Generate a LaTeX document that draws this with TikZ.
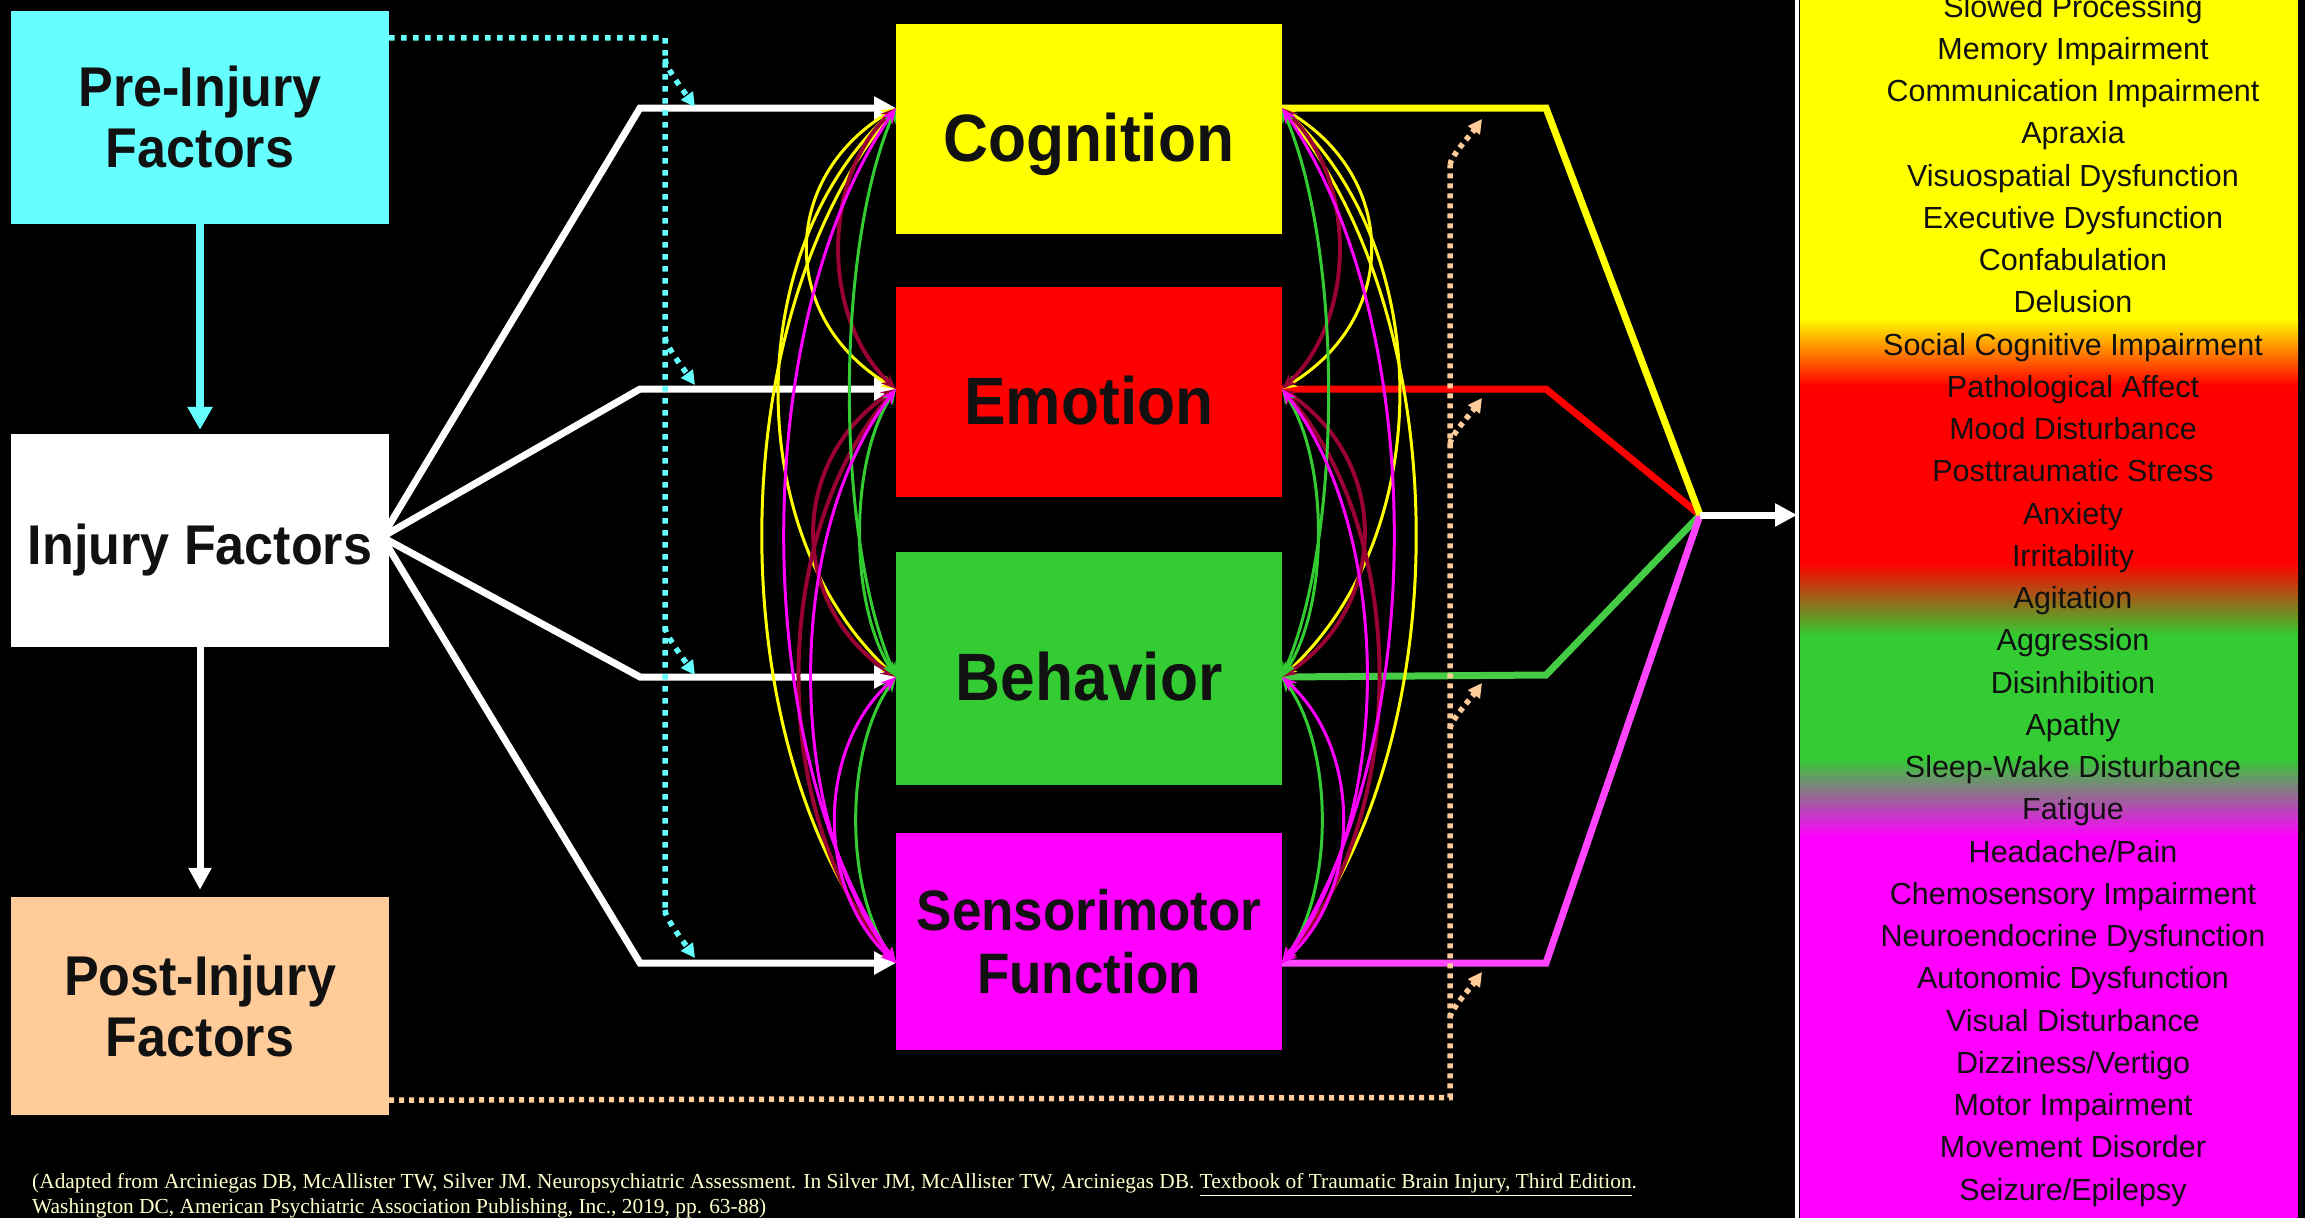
\documentclass[tikz,border=0pt]{standalone}
\usepackage{fontspec}
\setmainfont{Liberation Sans}
\newfontfamily\boxfont{Liberation Sans}[FakeStretch=0.93]
\newfontfamily\notefont{Liberation Serif}
\usetikzlibrary{arrows.meta}

\definecolor{preC}{HTML}{66FFFF}
\definecolor{postC}{HTML}{FFCC99}
\definecolor{cogC}{HTML}{FFFF00}
\definecolor{emoC}{HTML}{FF0000}
\definecolor{behC}{HTML}{33CC33}
\definecolor{senC}{HTML}{FF00FF}
\definecolor{behLine}{HTML}{44CC44}
\definecolor{senLine}{HTML}{FF44FF}
\definecolor{wineC}{HTML}{990033}
\definecolor{noteC}{HTML}{FFFFCC}
\definecolor{textC}{HTML}{111111}

\begin{document}
\begin{tikzpicture}[x=1pt, y=1pt,
    factorbox/.style={minimum width=378pt, minimum height=213pt, inner sep=0pt, align=center, text=textC, font=\boxfont\bfseries\fontsize{56}{61}\selectfont},
    domainbox/.style={minimum width=386pt, inner sep=0pt, align=center, text=textC, font=\boxfont\bfseries\fontsize{67}{72}\selectfont},
    oneline/.style={text height=64pt, text depth=0pt},
    wline/.style={white, line width=7pt},
    wtip/.style={-{Triangle[length=22pt, width=22pt]}},
    link/.style={line width=3pt, {Stealth[length=15pt, width=12pt]}-{Stealth[length=15pt, width=12pt]}},
    rline/.style={line width=7pt},
    cdot/.style={preC, line width=5.5pt, dash pattern=on 5.5pt off 6.5pt},
    pdot/.style={postC, line width=5.5pt, dash pattern=on 5pt off 5pt},
    dtip/.style={-{Triangle[length=14pt, width=14pt]}},
    symptom/.style={text=textC, font=\fontsize{30.5}{36}\selectfont, inner sep=0pt, anchor=base},
    note/.style={text=noteC, font=\notefont\fontsize{21.4}{24.5}\selectfont, align=left, inner sep=0pt}]
    \useasboundingbox (0,0) rectangle (2305,-1218);
    \fill[black] (0,0) rectangle (2305,-1218);

    % symptom panel
    \fill[cogC] (1800,0) rectangle (2298,-319);
    \shade[top color=cogC, bottom color=emoC] (1800,-318) rectangle (2298,-386);
    \fill[emoC] (1800,-385) rectangle (2298,-564);
    \shade[top color=emoC, bottom color=behC] (1800,-563) rectangle (2298,-636);
    \fill[behC] (1800,-635) rectangle (2298,-759);
    \shade[top color=behC, bottom color=senC] (1800,-758) rectangle (2298,-837);
    \fill[senC] (1800,-836) rectangle (2298,-1218);
    \draw[white, line width=4pt] (1797,0) -- (1797,-1218);
    \foreach \name [count=\i from 0] in {{Slowed Processing}, {Memory Impairment},
        {Communication Impairment}, {Apraxia}, {Visuospatial Dysfunction},
        {Executive Dysfunction}, {Confabulation}, {Delusion},
        {Social Cognitive Impairment}, {Pathological Affect}, {Mood Disturbance},
        {Posttraumatic Stress}, {Anxiety}, {Irritability}, {Agitation},
        {Aggression}, {Disinhibition}, {Apathy}, {Sleep-Wake Disturbance},
        {Fatigue}, {Headache/Pain}, {Chemosensory Impairment},
        {Neuroendocrine Dysfunction}, {Autonomic Dysfunction},
        {Visual Disturbance}, {Dizziness/Vertigo}, {Motor Impairment},
        {Movement Disorder}, {Seizure/Epilepsy}}
        \node[symptom] (sym\i) at (2073,-17-42.25*\i) {\name};

    % factors and domains
    \node[factorbox, fill=preC] (pre) at (200,-117) {Pre-Injury\\Factors};
    \node[factorbox, fill=white, text height=47pt, text depth=0pt] (inj) at (200,-540.5) {Injury Factors};
    \node[factorbox, fill=postC, minimum height=218pt] (post) at (200,-1006) {Post-Injury\\Factors};
    \node[domainbox, oneline, fill=cogC, minimum height=210pt] (cog) at (1089,-129) {Cognition};
    \node[domainbox, oneline, fill=emoC, minimum height=210pt] (emo) at (1089,-392) {Emotion};
    \node[domainbox, oneline, fill=behC, minimum height=233pt] (beh) at (1089,-668.5) {Behavior};
    \node[domainbox, fill=senC, minimum height=217pt, font=\boxfont\bfseries\fontsize{57}{63}\selectfont] (sen) at (1089,-941.5) {Sensorimotor\\Function};

    \coordinate (cogL) at (896,-108);  \coordinate (cogR) at (1282,-108);
    \coordinate (emoL) at (896,-389);  \coordinate (emoR) at (1282,-389);
    \coordinate (behL) at (896,-677);  \coordinate (behR) at (1282,-677);
    \coordinate (senL) at (896,-963);  \coordinate (senR) at (1282,-963);
    \coordinate (fan) at (382,-537);
    \coordinate (hub) at (1700,-515);
    \coordinate (panelIn) at (1797,-515);

    \draw[preC, line width=8pt, -{Triangle[length=23pt, width=24pt]}, shorten >=4pt] (pre) -- (inj);
    \draw[wline, wtip, shorten >=7pt] (inj) -- (post);

    % injury to domains
    \draw[wline, wtip] (fan) -- (640,-108) -- (cogL);
    \draw[wline, wtip] (fan) -- (640,-389) -- (emoL);
    \draw[wline, wtip] (fan) -- (640,-677) -- (behL);
    \draw[wline, wtip] (fan) -- (640,-963) -- (senL);

    % domains to symptoms
    \draw[rline, emoC] (emoR) -- (1546,-389) -- (hub);
    \draw[rline, behLine] (behR) -- (1546,-675) -- (hub);
    \draw[rline, senLine] (senR) -- (1546,-963) -- (hub);
    \draw[rline, cogC] (cogR) -- (1546,-108) -- (hub);
    \draw[wline, wtip] (hub) -- (panelIn);

    % links between domains, both sides
    \foreach \s/\d in {-1/L, 1/R} {
        \draw[link, cogC] (cog\d) .. controls +(\s*117,-70) and +(\s*117,70) .. (emo\d);
        \draw[link, cogC] (cog\d) .. controls +(\s*155,-142) and +(\s*155,142) .. (beh\d);
        \draw[link, cogC] (cog\d) .. controls +(\s*177,-214) and +(\s*177,214) .. (sen\d);
        \draw[link, wineC, line width=4pt] (emo\d) .. controls +(\s*75,70) and +(\s*75,-70) .. (cog\d);
        \draw[link, wineC, line width=4pt] (emo\d) .. controls +(\s*108,-72) and +(\s*108,72) .. (beh\d);
        \draw[link, wineC, line width=4pt] (emo\d) .. controls +(\s*128,-144) and +(\s*128,144) .. (sen\d);
        \draw[link, behC] (beh\d) .. controls +(\s*61,142) and +(\s*61,-142) .. (cog\d);
        \draw[link, behC] (beh\d) .. controls +(\s*47,72) and +(\s*47,-72) .. (emo\d);
        \draw[link, behC] (beh\d) .. controls +(\s*52,-72) and +(\s*52,72) .. (sen\d);
        \draw[link, senC] (sen\d) .. controls +(\s*148,214) and +(\s*148,-214) .. (cog\d);
        \draw[link, senC] (sen\d) .. controls +(\s*112,144) and +(\s*112,-144) .. (emo\d);
        \draw[link, senC] (sen\d) .. controls +(\s*80,72) and +(\s*80,-72) .. (beh\d);
    }

    % modifiers
    \draw[cdot] ([yshift=-27.5pt]pre.north east) -- (665,-38) -- (665,-915);
    \foreach \t in {107,385,675,958}
        \draw[cdot, dtip] (665,-\t+48) .. controls +(0,-8) and +(-10,14) .. (695,-\t);
    \draw[pdot] ([yshift=15pt]post.south east) -- (1450,-1097.5) -- (1450,-165);
    \foreach \t in {119,398,683,972}
        \draw[pdot, dtip] (1450,-\t-46) .. controls +(0,8) and +(-10,-14) .. (1482,-\t);

    \node[note, anchor=south west] (ref) at (32,-1218) {(Adapted from Arciniegas DB, McAllister TW, Silver JM. Neuropsychiatric Assessment. In Silver JM, McAllister TW, Arciniegas DB. \underline{Textbook of Traumatic Brain Injury, Third Edition}.\\Washington DC, American Psychiatric Association Publishing, Inc., 2019, pp. 63-88)};
\end{tikzpicture}
\end{document}
